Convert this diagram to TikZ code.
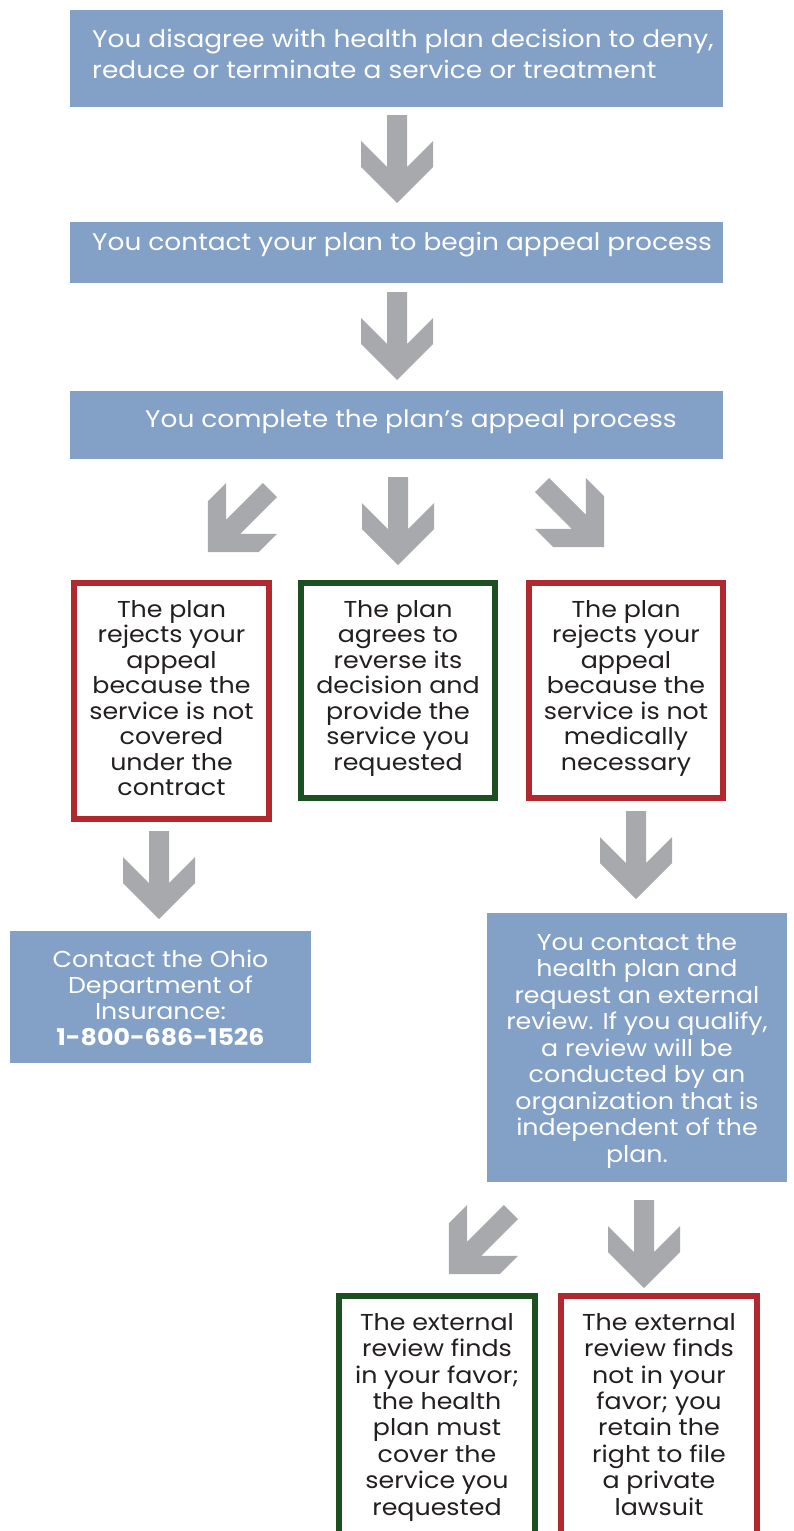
\documentclass[tikz,border=0pt]{standalone}
\usepackage{fontspec}
\setmainfont{Poppins}[FakeStretch=1.1]
\usetikzlibrary{calc}
\definecolor{boxblue}{RGB}{131,160,198}
\definecolor{arrowgray}{RGB}{167,169,172}
\definecolor{boxred}{RGB}{178,40,47}
\definecolor{boxgreen}{RGB}{28,80,32}
\definecolor{inkdark}{RGB}{35,31,32}
\begin{document}
\begin{tikzpicture}[x=1pt,y=-1pt,
  bluebox/.style={fill=boxblue, draw=none, inner sep=0pt},
  redbox/.style={draw=boxred, line width=6pt, fill=white, inner sep=0pt},
  greenbox/.style={draw=boxgreen, line width=6pt, fill=white, inner sep=0pt},
  wtext/.style={text=white, inner sep=0pt, font=\fontsize{23}{26.5}\selectfont},
  toptext/.style={text=white, inner sep=0pt, font=\fontsize{24}{31}\selectfont},
  dtext/.style={text=inkdark, inner sep=0pt, align=center, font=\fontsize{23}{25.5}\selectfont},
  garrow/.pic={\fill[arrowgray] (-10,0) -- (10,0) -- (10,52) -- (36,26) -- (36,52) -- (0,88)
     -- (-36,52) -- (-36,26) -- (-10,52) -- cycle;}
]
\path[use as bounding box] (0,0) rectangle (793,1531);
\clip (0,0) rectangle (793,1531);

% top boxes
\node[bluebox, minimum width=653pt, minimum height=97pt] (b1) at (396.5,58.5) {};
\node[toptext, anchor=base west, align=left] (t1) at (92,78)
  {You disagree with health plan decision to deny,\\reduce or terminate a service or treatment};
\node[bluebox, minimum width=653pt, minimum height=61pt] (b2) at (396.5,252.5) {};
\node[toptext, anchor=base west] (t2) at (92,250) {You contact your plan to begin appeal process};
\node[bluebox, minimum width=653pt, minimum height=68pt] (b3) at (396.5,425) {};
\node[toptext, anchor=base west] (t3) at (145,427) {You complete the plan’s appeal process};

% arrows between top boxes
\coordinate (a1) at (397,115);
\coordinate (a2) at (397,292);
\pic at (a1) {garrow};
\pic at (a2) {garrow};

% three-way split
\coordinate (a3) at (270,490);
\coordinate (a4) at (398,477);
\coordinate (a5) at (542,485);
\pic[rotate=-45] at (a3) {garrow};
\pic at (a4) {garrow};
\pic[rotate=45] at (a5) {garrow};

% outcome boxes
\node[redbox, minimum width=195pt, minimum height=236pt] (r1) at (171.5,701) {};
\node[dtext, anchor=base] (rt1) at (171.5,795.5)
  {The plan\\rejects your\\appeal\\because the\\service is not\\covered\\under the\\contract};
\node[greenbox, minimum width=194pt, minimum height=215pt] (g1) at (398,690.5) {};
\node[dtext, anchor=base] (gt1) at (398,770)
  {The plan\\agrees to\\reverse its\\decision and\\provide the\\service you\\requested};
\node[redbox, minimum width=194pt, minimum height=215pt] (r2) at (626,690.5) {};
\node[dtext, anchor=base] (rt2) at (626,770)
  {The plan\\rejects your\\appeal\\because the\\service is not\\medically\\necessary};

% arrows to next step
\coordinate (a6) at (159,831);
\coordinate (a7) at (636,811);
\pic at (a6) {garrow};
\pic at (a7) {garrow};

% Ohio box
\node[bluebox, minimum width=301pt, minimum height=132pt] (ohio) at (160.5,997) {};
\node[wtext, anchor=base, align=center, font=\fontsize{23}{26}\selectfont] (ohiot) at (160.5,1045)
  {Contact the Ohio\\Department of\\Insurance:\\\textbf{1-800-686-1526}};

% external review box
\node[bluebox, minimum width=300pt, minimum height=269pt] (ext) at (637,1047.5) {};
\node[wtext, anchor=base, align=center] (extt) at (637,1162)
  {You contact the\\health plan and\\request an external\\review. If you qualify,\\a review will be\\conducted by an\\organization that is\\independent of the\\plan.};

% final arrows
\coordinate (a8) at (511,1212);
\coordinate (a9) at (644,1200);
\pic[rotate=-45] at (a8) {garrow};
\pic at (a9) {garrow};

% final boxes
\node[greenbox, minimum width=196pt, minimum height=240pt] (g2) at (437,1416) {};
\node[dtext, anchor=base, font=\fontsize{23}{26.4}\selectfont] (gt2) at (437,1515)
  {The external\\review finds\\in your favor;\\the health\\plan must\\cover the\\service you\\requested};
\node[redbox, minimum width=196pt, minimum height=240pt] (r3) at (659,1416) {};
\node[dtext, anchor=base, font=\fontsize{23}{26.4}\selectfont] (rt3) at (659,1515)
  {The external\\review finds\\not in your\\favor; you\\retain the\\right to file\\a private\\lawsuit};
\end{tikzpicture}
\end{document}
